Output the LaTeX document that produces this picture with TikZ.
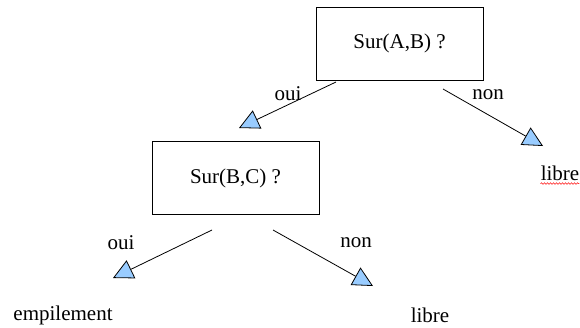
\documentclass[tikz,border=0pt]{standalone}
\usepackage{fontspec}
\setmainfont{Liberation Serif}
\newfontfamily\tnr{Liberation Serif}
\usetikzlibrary{arrows.meta,decorations.pathmorphing}
\definecolor{tipblue}{HTML}{99CCFF}
\begin{document}
\begin{tikzpicture}[x=1pt,y=-1pt,
  box/.style={draw,line width=0.9pt,minimum width=167pt,minimum height=73pt,inner sep=0pt,font=\tnr\fontsize{21}{24}\selectfont},
  lbl/.style={inner sep=0pt,font=\tnr\fontsize{21}{24}\selectfont},
  conn/.style={line width=0.8pt,-{Triangle[length=20pt,width=20pt,fill=tipblue,line width=0.8pt]}}]
\useasboundingbox (0,0) rectangle (580,327);
\node[box] (q1) at (399.5,43.5) {Sur(A,B) ?};
\node[box] (q2) at (235.5,178) {Sur(B,C) ?};
\node[lbl] (o1) at (288,94) {oui};
\node[lbl] (n1) at (488,95) {non};
\node[lbl] (l1) at (560,173) {libre};
\node[lbl] (o2) at (121,243) {oui};
\node[lbl] (n2) at (356,243) {non};
\node[lbl] (e2) at (63,315) {empilement};
\node[lbl] (l2) at (430,315) {libre};
\draw[red,line width=0.5pt,decorate,decoration={snake,amplitude=0.8pt,segment length=3pt}] ([yshift=-3pt]l1.south west) -- ([yshift=-3pt]l1.south east);
\coordinate (a1s) at (336,82);
\coordinate (a1e) at (239,128);
\coordinate (b1s) at (443,89);
\coordinate (b1e) at (543,146);
\coordinate (a2s) at (212,230);
\coordinate (a2e) at (113,278);
\coordinate (b2s) at (273,230);
\coordinate (b2e) at (373,286);
\draw[conn] (a1s) -- (a1e);
\draw[conn] (b1s) -- (b1e);
\draw[conn] (a2s) -- (a2e);
\draw[conn] (b2s) -- (b2e);
\end{tikzpicture}
\end{document}
